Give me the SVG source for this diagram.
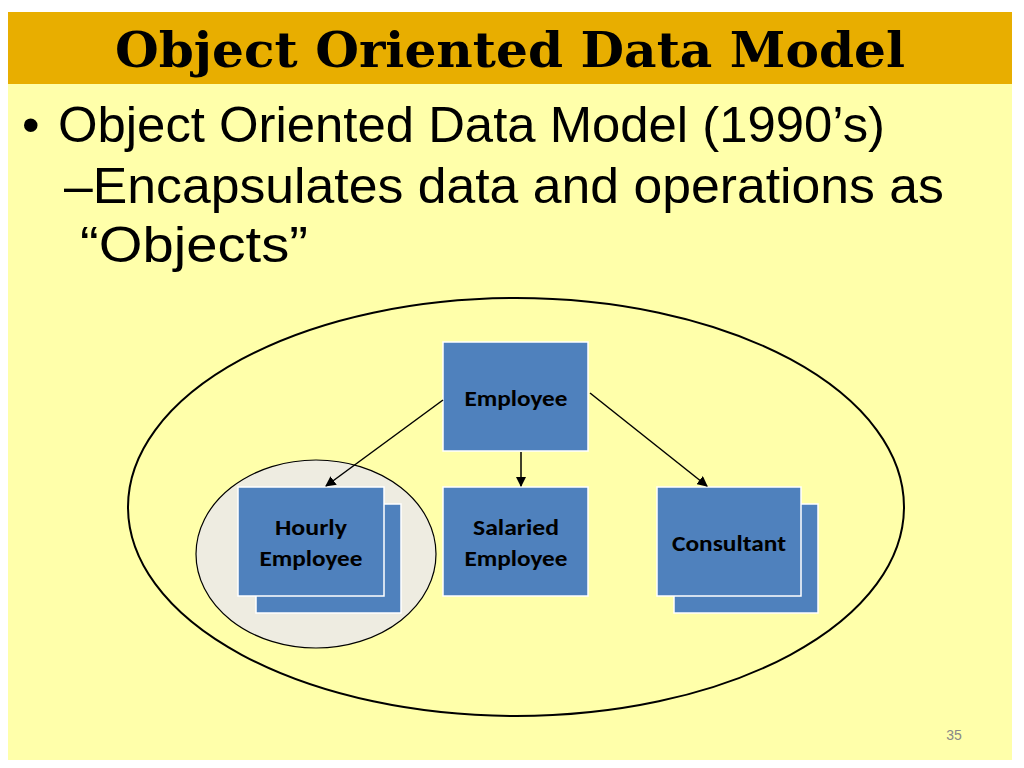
<svg xmlns="http://www.w3.org/2000/svg" width="1024" height="768" viewBox="0 0 1024 768">
<defs>
<style>
.box{fill:#4F81BD;stroke:#ffffff;stroke-width:1.5}
.lbl{font-family:Carlito,Calibri,"Open Sans","Liberation Sans",sans-serif;font-weight:bold;font-size:22px;fill:#000;text-anchor:middle}
.body{font-family:"Liberation Sans",Arial,sans-serif;font-size:50px;fill:#000}
.con{stroke:#000;stroke-width:1.5;fill:none;marker-end:url(#ah)}
</style>
<marker id="ah" viewBox="0 0 10 10" refX="9" refY="5" markerWidth="7" markerHeight="7" orient="auto"><path d="M0,0 L10,5 L0,10 z" fill="#000"/></marker>
</defs>
<rect width="1024" height="768" fill="#fff"/>
<rect x="8" y="12" width="1004" height="748" fill="#FFFFAA"/>
<rect x="8" y="12" width="1004" height="72" fill="#E8AE00"/>
<text x="115" y="67" textLength="790" lengthAdjust="spacingAndGlyphs" font-family="'DejaVu Serif','Liberation Serif',serif" font-weight="bold" font-size="48" fill="#000">Object Oriented Data Model</text>
<text class="body" x="22" y="142">•</text>
<text class="body" x="58" y="142" textLength="827" lengthAdjust="spacingAndGlyphs">Object Oriented Data Model (1990’s)</text>
<text class="body" x="64" y="203" textLength="880" lengthAdjust="spacingAndGlyphs">–Encapsulates data and operations as</text>
<text class="body" x="80" y="262" textLength="228" lengthAdjust="spacingAndGlyphs">“Objects”</text>
<ellipse cx="516" cy="507" rx="388" ry="209" fill="none" stroke="#000" stroke-width="2"/>
<ellipse cx="316" cy="554" rx="120" ry="94" fill="#EEECE1" stroke="#000" stroke-width="1.2"/>
<g id="employee"><rect class="box" x="443" y="342" width="145" height="109"/><text class="lbl" x="516" y="406" textLength="103" lengthAdjust="spacingAndGlyphs">Employee</text></g>
<g id="hourly"><rect class="box" x="256" y="504" width="145" height="109"/><rect class="box" x="238" y="487" width="146" height="109"/><text class="lbl" x="311" y="535" textLength="72" lengthAdjust="spacingAndGlyphs">Hourly</text><text class="lbl" x="311" y="566" textLength="103" lengthAdjust="spacingAndGlyphs">Employee</text></g>
<g id="salaried"><rect class="box" x="443" y="487" width="145" height="109"/><text class="lbl" x="516" y="535" textLength="86" lengthAdjust="spacingAndGlyphs">Salaried</text><text class="lbl" x="516" y="566" textLength="103" lengthAdjust="spacingAndGlyphs">Employee</text></g>
<g id="consultant"><rect class="box" x="674" y="504" width="144" height="109"/><rect class="box" x="657" y="487" width="144" height="109"/><text class="lbl" x="729" y="551" textLength="114" lengthAdjust="spacingAndGlyphs">Consultant</text></g>
<g id="connectors">
<line class="con" x1="443" y1="400" x2="326" y2="486"/>
<line class="con" x1="521" y1="452" x2="521" y2="486"/>
<line class="con" x1="590" y1="393" x2="707" y2="486"/>
</g>
<text x="954" y="740" text-anchor="middle" font-family="'Liberation Sans',sans-serif" font-size="14" fill="#888">35</text>
</svg>
